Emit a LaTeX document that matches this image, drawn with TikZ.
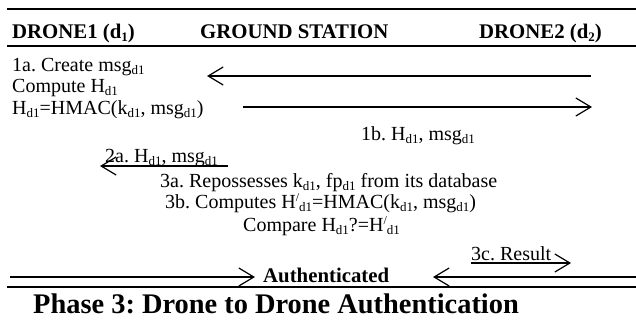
\documentclass[tikz,border=0pt]{standalone}
\usepackage{fontspec}
\setmainfont{Liberation Serif}
\usetikzlibrary{arrows.meta}
\newcommand\sbx[1]{\raisebox{-3pt}{\fontsize{13}{13}\selectfont #1}}
\newcommand\prm{\raisebox{7pt}{\fontsize{12}{12}\selectfont /}}
\frenchspacing
\begin{document}
\begin{tikzpicture}[x=1pt,y=-1pt,
  txt/.style={inner sep=0pt,anchor=base west,font=\fontsize{20}{24}\selectfont\frenchspacing},
  hdr/.style={inner sep=0pt,anchor=base west,font=\fontsize{20.8}{24}\selectfont\bfseries\frenchspacing},
  ttl/.style={inner sep=0pt,anchor=base west,font=\fontsize{28.4}{32}\selectfont\bfseries\frenchspacing},
  msg/.style={line width=1.2pt,-{Straight Barb[length=15pt,width=18pt,line width=1.2pt]}},
  rulex/.style={line width=2.4pt}]
\useasboundingbox (0,0) rectangle (636,324);
% rules
\coordinate (r1a) at (7,9);   \coordinate (r1b) at (636,9);
\coordinate (r2a) at (7,46);  \coordinate (r2b) at (636,46);
\coordinate (r3a) at (7,287); \coordinate (r3b) at (636,287);
\draw[rulex] (r1a) -- (r1b);
\draw[rulex] (r2a) -- (r2b);
\draw[rulex] (r3a) -- (r3b);
% headers
\node[hdr] (h1) at (12,38) {DRONE1 (d\sbx{1})};
\node[hdr] (h2) at (200,38) {GROUND STATION};
\node[hdr] (h3) at (479,38) {DRONE2 (d\sbx{2})};
% step 1
\node[txt] (s1a) at (12,71) {1a. Create msg\sbx{d1}};
\node[txt] (s1b) at (12,92) {Compute H\sbx{d1}};
\node[txt] (s1c) at (12,114) {H\sbx{d1}=HMAC(k\sbx{d1}, msg\sbx{d1})};
\coordinate (a1s) at (591,76); \coordinate (a1e) at (207,76);
\coordinate (a2s) at (243,107); \coordinate (a2e) at (592,107);
\draw[msg] (a1s) -- (a1e);
\draw[msg] (a2s) -- (a2e);
\node[txt] (l1b) at (361,140) {1b. H\sbx{d1}, msg\sbx{d1}};
% step 2
\node[txt] (l2a) at (105,162) {2a. H\sbx{d1}, msg\sbx{d1}};
\coordinate (a3s) at (228,166); \coordinate (a3e) at (100,166);
\draw[msg] (a3s) -- (a3e);
% step 3
\node[txt] (l3a) at (160,187) {3a. Repossesses k\sbx{d1}, fp\sbx{d1} from its database};
\node[txt] (l3b) at (165,208) {3b. Computes H\prm\sbx{d1}=HMAC(k\sbx{d1}, msg\sbx{d1})};
\node[txt] (l3c) at (243,231) {Compare H\sbx{d1}?=H\prm\sbx{d1}};
\node[txt] (l3r) at (471,260) {3c. Result};
\coordinate (a4s) at (471,263); \coordinate (a4e) at (571,263);
\draw[msg] (a4s) -- (a4e);
% authenticated
\node[hdr] (auth) at (263,282) {Authenticated};
\coordinate (a5s) at (10,277); \coordinate (a5e) at (255,277);
\coordinate (a6s) at (636,277); \coordinate (a6e) at (433,277);
\draw[msg] (a5s) -- (a5e);
\draw[msg] (a6s) -- (a6e);
% title
\node[ttl] (title) at (33,313) {Phase 3: Drone to Drone Authentication};
\end{tikzpicture}
\end{document}
